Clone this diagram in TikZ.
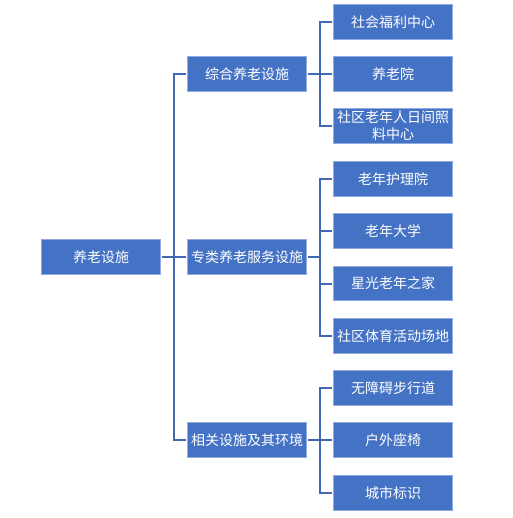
\documentclass[tikz,border=0pt]{standalone}
\usepackage{fontspec}
\setmainfont{Noto Sans CJK SC}
\definecolor{boxfill}{HTML}{4472C4}
\definecolor{boxline}{HTML}{8FAADC}
\definecolor{connline}{HTML}{4268B4}
\begin{document}
\begin{tikzpicture}[x=0.75pt,y=-0.75pt,
  box/.style={draw=boxline,line width=0.75pt,fill=boxfill,text=white,
    minimum width=89pt,minimum height=26pt,inner sep=0pt,align=center,
    font=\fontsize{10.5pt}{12.75pt}\selectfont},
  conn/.style={draw=connline,line width=1.5pt,line join=miter}]
\useasboundingbox (0,0) rectangle (513,518);
\node[box] (root) at (101,257) {养老设施};
\node[box] (l1) at (247,74) {综合养老设施};
\node[box] (l2) at (247,257) {专类养老服务设施};
\node[box] (l3) at (247,440) {相关设施及其环境};
\node[box] (a) at (393,22) {社会福利中心};
\node[box] (b) at (393,74) {养老院};
\node[box] (c) at (393,126) {社区老年人日间照\\料中心};
\node[box] (d) at (393,179) {老年护理院};
\node[box] (e) at (393,231) {老年大学};
\node[box] (f) at (393,283.5) {星光老年之家};
\node[box] (g) at (393,336) {社区体育活动场地};
\node[box] (h) at (393,388) {无障碍步行道};
\node[box] (i) at (393,440) {户外座椅};
\node[box] (j) at (393,493) {城市标识};
\coordinate (t0) at (173.5,257);
\coordinate (t1) at (319.5,74);
\coordinate (t2) at (319.5,257);
\coordinate (t3) at (319.5,440);
\draw[conn,shorten <=1pt] (root.east) -- (t0);
\draw[conn,shorten >=1pt] (t0) |- (l1.west);
\draw[conn,shorten >=1pt] (t0) -- (l2.west);
\draw[conn,shorten >=1pt] (t0) |- (l3.west);
\draw[conn,shorten <=1pt] (l1.east) -- (t1);
\draw[conn,shorten >=1pt] (t1) |- (a.west);
\draw[conn,shorten >=1pt] (t1) -- (b.west);
\draw[conn,shorten >=1pt] (t1) |- (c.west);
\draw[conn,shorten <=1pt] (l2.east) -- (t2);
\draw[conn,shorten >=1pt] (t2) |- (d.west);
\draw[conn,shorten >=1pt] (t2) |- (e.west);
\draw[conn,shorten >=1pt] (t2) |- (f.west);
\draw[conn,shorten >=1pt] (t2) |- (g.west);
\draw[conn,shorten <=1pt] (l3.east) -- (t3);
\draw[conn,shorten >=1pt] (t3) |- (h.west);
\draw[conn,shorten >=1pt] (t3) -- (i.west);
\draw[conn,shorten >=1pt] (t3) |- (j.west);
\end{tikzpicture}
\end{document}
